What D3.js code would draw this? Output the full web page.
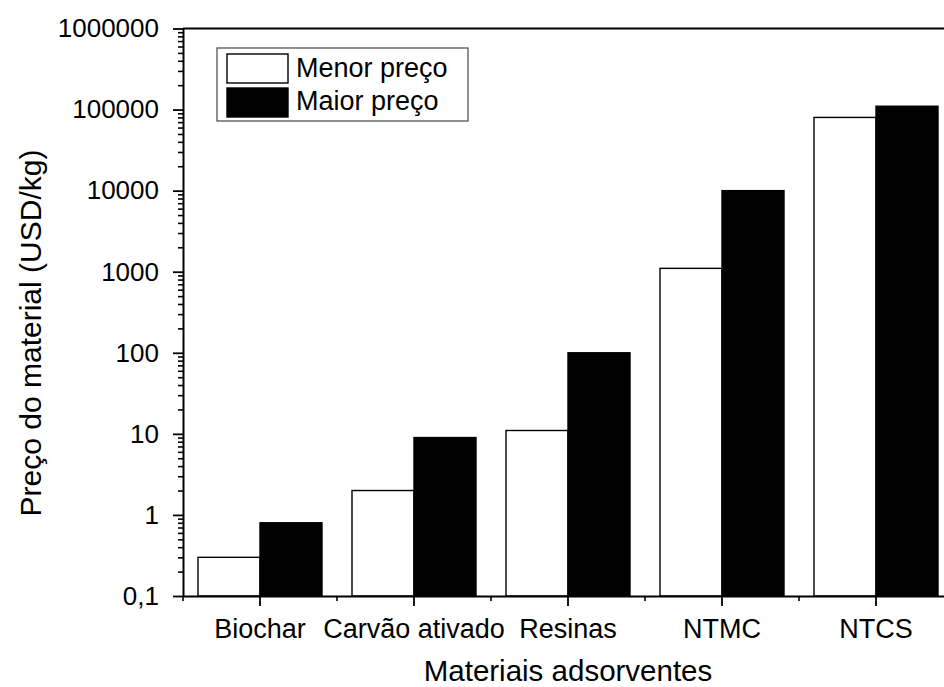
<!DOCTYPE html>
<html>
<head>
<meta charset="utf-8">
<script src="https://cdn.jsdelivr.net/npm/d3@7"></script>
<style>
  html, body { margin: 0; padding: 0; background: #fff; }
  svg { display: block; font-family: "Liberation Sans", Arial, sans-serif; }
</style>
</head>
<body>
<svg id="chart" width="944" height="687"></svg>
<script>
// Price ranges of adsorbent materials (USD/kg)
const categories = ["Biochar", "Carvão ativado", "Resinas", "NTMC", "NTCS"];
const menorPreco = [0.3, 2, 11, 1100, 80000];
const maiorPreco = [0.8, 9, 100, 10000, 110000];
const seriesNames = ["Menor preço", "Maior preço"];
const seriesKeys = ["menor", "maior"];
const yTickValues = [0.1, 1, 10, 100, 1000, 10000, 100000, 1000000];
const yTickLabels = ["0,1", "1", "10", "100", "1000", "10000", "100000", "1000000"];

const rows = categories.map((c, i) => ({ cat: c, menor: menorPreco[i], maior: maiorPreco[i] }));

const svg = d3.select("#chart");
const plotLeft = 183, plotRight = 953, plotTop = 28.5, plotBottom = 596;

const x = d3.scaleBand().domain(categories).range([plotLeft, plotRight]).padding(0);
const xs = d3.scaleBand().domain(seriesKeys).range([15, 139]).padding(0);
const y = d3.scaleLog().domain([0.1, 1e6]).range([plotBottom, plotTop]);
const fills = { menor: "#fff", maior: "#000" };

// Bars
const g = svg.append("g");
rows.forEach(r => {
  g.selectAll(null)
    .data(seriesKeys)
    .join("rect")
    .attr("x", k => x(r.cat) + xs(k))
    .attr("width", xs.bandwidth())
    .attr("y", k => y(r[k]))
    .attr("height", k => plotBottom - y(r[k]))
    .attr("fill", k => fills[k])
    .attr("stroke", "#000")
    .attr("stroke-width", 1.4);
});

// Minor ticks of the log axis (2..9 per decade)
const minorY = [];
d3.range(-1, 6).forEach(e => {
  for (let m = 2; m <= 9; m++) minorY.push(m * Math.pow(10, e));
});
svg.append("g")
  .attr("transform", `translate(${plotLeft},0)`)
  .call(d3.axisLeft(y).tickValues(minorY).tickSize(5).tickFormat(""))
  .call(a => a.select(".domain").remove())
  .call(a => a.selectAll("line").attr("stroke-width", 1.6));

// Major y axis
svg.append("g")
  .attr("transform", `translate(${plotLeft},0)`)
  .call(d3.axisLeft(y).tickValues(yTickValues).tickSize(10).tickSizeOuter(0).tickPadding(14)
    .tickFormat((d, i) => yTickLabels[i]))
  .call(a => a.select(".domain").attr("stroke-width", 2))
  .call(a => a.selectAll("line").attr("stroke-width", 1.8))
  .call(a => a.selectAll("text").attr("font-size", 26).attr("fill", "#000")
    .attr("font-family", "Liberation Sans, Arial, sans-serif"));

// Minor x ticks at category boundaries
svg.append("g")
  .attr("transform", `translate(0,${plotBottom})`)
  .selectAll("line")
  .data(categories)
  .join("line")
  .attr("x1", d => x(d)).attr("x2", d => x(d))
  .attr("y1", 0).attr("y2", 5)
  .attr("stroke", "#000").attr("stroke-width", 1.6);

// Major x axis
svg.append("g")
  .attr("transform", `translate(0,${plotBottom})`)
  .call(d3.axisBottom(x).tickSize(10).tickSizeOuter(0).tickPadding(13))
  .call(a => a.select(".domain").attr("stroke-width", 2))
  .call(a => a.selectAll("line").attr("stroke-width", 1.8))
  .call(a => a.selectAll("text").attr("font-size", 27).attr("fill", "#000")
    .attr("font-family", "Liberation Sans, Arial, sans-serif"));

// Top frame
svg.append("line")
  .attr("x1", plotLeft).attr("x2", plotRight).attr("y1", plotTop).attr("y2", plotTop)
  .attr("stroke", "#000").attr("stroke-width", 2);

// Legend
const lg = svg.append("g");
lg.append("rect").attr("x", 217).attr("y", 48).attr("width", 251).attr("height", 73)
  .attr("fill", "#fff").attr("stroke", "#555").attr("stroke-width", 1.3);
seriesKeys.forEach((k, i) => {
  lg.append("rect").attr("x", 227).attr("y", 54 + i * 34).attr("width", 61).attr("height", 29)
    .attr("fill", fills[k]).attr("stroke", "#000").attr("stroke-width", 1.4);
  lg.append("text").attr("x", 296).attr("y", 77 + i * 33).attr("font-size", 27)
    .attr("fill", "#000").text(seriesNames[i]);
});

// Axis titles
svg.append("text")
  .attr("x", (plotLeft + plotRight) / 2).attr("y", 680.5)
  .attr("text-anchor", "middle").attr("font-size", 29.5).attr("fill", "#000")
  .text("Materiais adsorventes");
svg.append("text")
  .attr("transform", "translate(41,333) rotate(-90)")
  .attr("text-anchor", "middle").attr("font-size", 30).attr("fill", "#000")
  .text("Preço do material (USD/kg)");
</script>
</body>
</html>
